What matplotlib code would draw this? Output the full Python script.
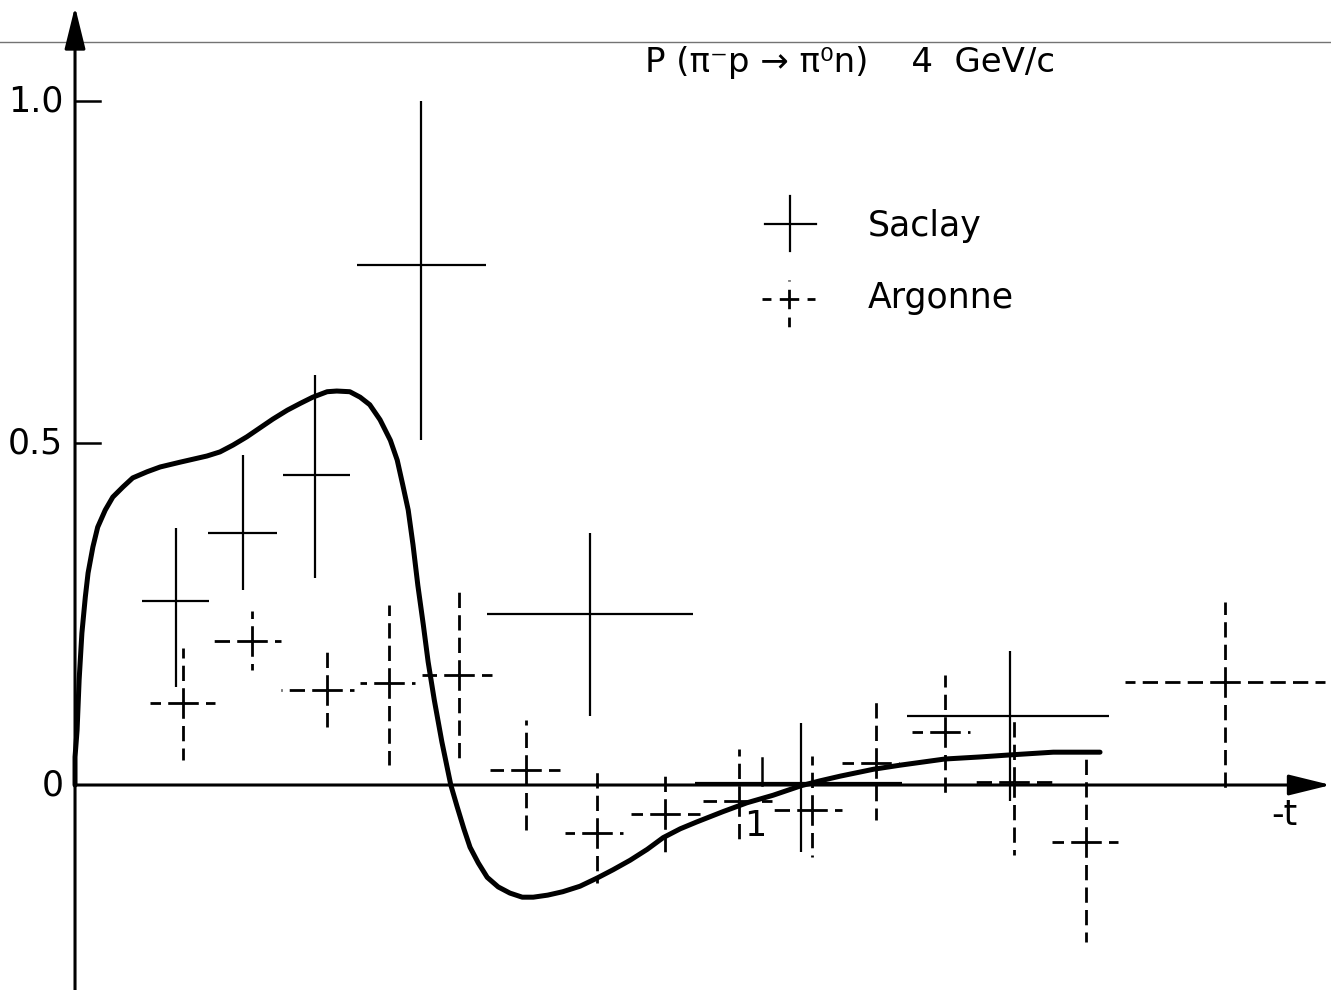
import matplotlib.pyplot as plt
import numpy as np

# Saclay measurements: -t bin centre, bin edges, polarization and error range
saclay_t = [0.147, 0.245, 0.349, 0.504, 0.750, 1.057, 1.361]
saclay_tlo = [0.098, 0.194, 0.303, 0.410, 0.600, 0.902, 1.211]
saclay_thi = [0.195, 0.294, 0.400, 0.598, 0.900, 1.204, 1.505]
saclay_p = [0.269, 0.368, 0.453, 0.760, 0.250, 0.003, 0.101]
saclay_plo = [0.143, 0.285, 0.303, 0.504, 0.101, -0.098, -0.023]
saclay_phi = [0.376, 0.482, 0.599, 1.000, 0.368, 0.091, 0.196]

# Argonne measurements
argonne_t = [0.157, 0.258, 0.367, 0.457, 0.559, 0.656, 0.760, 0.859, 0.967,
             1.073, 1.166, 1.266, 1.367, 1.472, 1.674]
argonne_tlo = [0.109, 0.199, 0.300, 0.415, 0.505, 0.604, 0.713, 0.809, 0.914,
               1.016, 1.116, 1.218, 1.310, 1.422, 1.528]
argonne_thi = [0.204, 0.300, 0.406, 0.495, 0.607, 0.706, 0.798, 0.910, 1.015,
               1.116, 1.199, 1.303, 1.422, 1.518, 1.820]
argonne_p = [0.120, 0.211, 0.139, 0.149, 0.161, 0.022, -0.070, -0.042, -0.023,
             -0.037, 0.032, 0.077, 0.004, -0.083, 0.151]
argonne_plo = [0.037, 0.168, 0.085, 0.029, 0.031, -0.066, -0.143, -0.099, -0.089,
               -0.105, -0.051, -0.015, -0.102, -0.230, -0.012]
argonne_phi = [0.200, 0.254, 0.196, 0.263, 0.292, 0.095, 0.019, 0.022, 0.053,
               0.042, 0.124, 0.161, 0.099, 0.042, 0.268]

# model curve
curve_t = [0.000, 0.000, 0.003, 0.006, 0.010, 0.015, 0.019, 0.026, 0.033, 0.044,
           0.055, 0.070, 0.084, 0.105, 0.124, 0.153, 0.192, 0.211, 0.230, 0.250,
           0.269, 0.288, 0.309, 0.328, 0.346, 0.367, 0.381, 0.400, 0.415, 0.429,
           0.444, 0.459, 0.469, 0.477, 0.485, 0.492, 0.499, 0.507, 0.514, 0.523,
           0.534, 0.547, 0.556, 0.566, 0.575, 0.587, 0.600, 0.616, 0.633, 0.651,
           0.667, 0.688, 0.710, 0.735, 0.760, 0.783, 0.808, 0.833, 0.856, 0.881,
           0.905, 0.943, 0.978, 1.016, 1.057, 1.084, 1.114, 1.162, 1.201, 1.266,
           1.317, 1.361, 1.424, 1.492]
curve_p = [0.000, 0.041, 0.080, 0.154, 0.222, 0.275, 0.310, 0.348, 0.377, 0.402,
           0.421, 0.436, 0.449, 0.458, 0.465, 0.472, 0.481, 0.487, 0.497, 0.509,
           0.522, 0.535, 0.548, 0.558, 0.567, 0.575, 0.576, 0.575, 0.567, 0.556,
           0.534, 0.504, 0.475, 0.439, 0.402, 0.351, 0.292, 0.234, 0.180, 0.124,
           0.063, 0.000, -0.031, -0.064, -0.091, -0.114, -0.135, -0.149, -0.158, -0.164,
           -0.164, -0.161, -0.156, -0.148, -0.136, -0.124, -0.110, -0.094, -0.077, -0.064,
           -0.054, -0.039, -0.026, -0.015, -0.001, 0.006, 0.013, 0.023, 0.029, 0.038,
           0.041, 0.044, 0.048, 0.048]

fig = plt.figure(figsize=(13.31, 9.90), dpi=100)
ax = fig.add_axes([0, 0, 1, 1])
ax.set_xlim(-0.1092, 1.8282)
ax.set_ylim(-0.2997, 1.1477)
ax.axis("off")

FONT = 25


def cross(t, tlo, thi, p, plo, phi, dashed, lw):
    # each arm is drawn from the centre outwards so dashes meet in a "+"
    ls = (0, (5.5, 2.6)) if dashed else "solid"
    for i in range(len(t)):
        for a, b in ((t[i], tlo[i]), (t[i], thi[i])):
            ax.plot([a, b], [p[i], p[i]], color="black", lw=lw, ls=ls,
                    solid_capstyle="butt", dash_capstyle="butt")
        for a, b in ((p[i], plo[i]), (p[i], phi[i])):
            ax.plot([t[i], t[i]], [a, b], color="black", lw=lw, ls=ls,
                    solid_capstyle="butt", dash_capstyle="butt")


cross(saclay_t, saclay_tlo, saclay_thi, saclay_p, saclay_plo, saclay_phi, False, 1.6)
cross(argonne_t, argonne_tlo, argonne_thi, argonne_p, argonne_plo, argonne_phi, True, 2.0)

ax.plot(curve_t, curve_p, color="black", lw=3.6, solid_joinstyle="round",
        solid_capstyle="round")

# axes with arrow heads
arrow = dict(arrowstyle="-|>,head_length=1.3,head_width=0.32", color="black",
             lw=2.2, shrinkA=0, shrinkB=0, mutation_scale=20)
ax.annotate("", xy=(0, 1.138), xytext=(0, -0.30), arrowprops=arrow)
ax.annotate("", xy=(1.828, 0), xytext=(0, 0), arrowprops=arrow)

# thin rule across the top
ax.axhline(1.086, color="0.45", lw=1.0)

# y ticks
for v, lab in ((0.5, "0.5"), (1.0, "1.0")):
    ax.plot([0, 0.036], [v, v], color="black", lw=1.8)
    ax.text(-0.017, v, lab, ha="right", va="center", fontsize=FONT)
ax.text(-0.017, 0, "0", ha="right", va="center", fontsize=FONT)

# x tick at 1
ax.plot([1, 1], [0, 0.039], color="black", lw=1.8)
ax.text(0.990, -0.060, "1", ha="center", va="center", fontsize=FONT)
ax.text(1.761, -0.044, "-t", ha="center", va="center", fontsize=FONT)

ax.text(0.830, 1.056, "P (π⁻p → π⁰n)    4  GeV/c", ha="left", va="center",
        fontsize=24.5)

# key
tr = ax.transAxes
ax.plot([0.5747, 0.6130], [0.7737, 0.7737], color="black", lw=1.6, transform=tr)
ax.plot([0.5935, 0.5935], [0.7465, 0.8020], color="black", lw=1.6, transform=tr)
kls = (0, (3.5, 3.0))
for a, b in ((0.5928, 0.5725), (0.5928, 0.6123)):
    ax.plot([a, b], [0.698, 0.698], color="black", lw=2.0, ls=kls, transform=tr)
for a, b in ((0.698, 0.6697), (0.698, 0.7172)):
    ax.plot([0.5928, 0.5928], [a, b], color="black", lw=2.0, ls=kls, transform=tr)
ax.text(0.652, 0.7717, "Saclay", ha="left", va="center", fontsize=FONT, transform=tr)
ax.text(0.652, 0.699, "Argonne", ha="left", va="center", fontsize=FONT, transform=tr)

fig.savefig("out.png", dpi=100)
